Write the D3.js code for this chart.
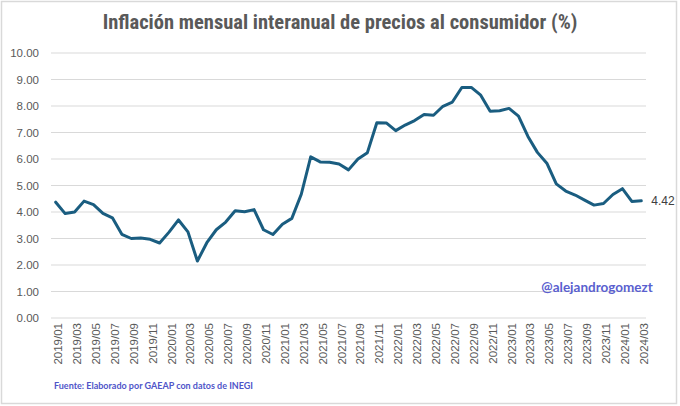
<!DOCTYPE html>
<html><head><meta charset="utf-8">
<script src="https://cdn.jsdelivr.net/npm/d3@7"></script>
<style>body{margin:0;background:#fff}svg{display:block}</style>
</head><body>
<svg id="c" width="680" height="406"></svg>
<script>
const years = [2019, 2020, 2021, 2022, 2023, 2024];
const inflation = [
  4.37, 3.94, 4.00, 4.41, 4.28, 3.95, 3.78, 3.16, 3.00, 3.02, 2.97, 2.83,
  3.24, 3.70, 3.25, 2.15, 2.84, 3.33, 3.62, 4.05, 4.01, 4.09, 3.33, 3.15,
  3.54, 3.76, 4.67, 6.08, 5.89, 5.88, 5.81, 5.59, 6.00, 6.24, 7.37, 7.36,
  7.07, 7.28, 7.45, 7.68, 7.65, 7.99, 8.15, 8.70, 8.70, 8.41, 7.80, 7.82,
  7.91, 7.62, 6.85, 6.25, 5.84, 5.06, 4.79, 4.64, 4.45, 4.26, 4.32, 4.66,
  4.88, 4.40, 4.42
];
const months = [];
years.forEach(yr => { for (let m = 1; m <= 12; m++) months.push(yr + "/" + String(m).padStart(2, "0")); });
const categories = months.slice(0, inflation.length);
const yTicks = [0, 1, 2, 3, 4, 5, 6, 7, 8, 9, 10];
const title = "Inflación mensual interanual de precios al consumidor (%)";
const source = "Fuente: Elaborado por GAEAP con datos de INEGI";
const handle = "@alejandrogomezt";

const svg = d3.select("#c");
svg.append("rect").attr("x", 1.5).attr("y", 1.5).attr("width", 675).attr("height", 402)
  .attr("fill", "#fff").attr("stroke", "#d9d9d9").attr("stroke-width", 1.5);

const pL = 51, pR = 646, pT = 53, pB = 318;
const x = d3.scalePoint().domain(categories).range([pL, pR]).padding(0.5);
const y = d3.scaleLinear().domain([0, 10]).range([pB, pT]);

// grid
svg.append("g").selectAll("line").data(yTicks).join("line")
  .attr("x1", pL).attr("x2", pR)
  .attr("y1", d => y(d)).attr("y2", d => y(d))
  .attr("stroke", "#d9d9d9").attr("stroke-width", 1);

// y labels
const yAxis = d3.axisLeft(y).tickValues(yTicks).tickFormat(d3.format(".2f")).tickSize(0).tickPadding(0);
const gy = svg.append("g").attr("transform", "translate(39,0)").call(yAxis);
gy.select(".domain").remove();
gy.selectAll("text").attr("fill", "#595959").attr("font-size", 11.5)
  .attr("font-family", "Liberation Sans, Arial, sans-serif");

// x labels
const xAxis = d3.axisBottom(x).tickValues(categories.filter((d, i) => i % 2 === 0)).tickSize(0).tickPadding(0);
const gx = svg.append("g").attr("transform", `translate(2,${pB + 5})`).call(xAxis);
gx.select(".domain").remove();
gx.selectAll("text")
  .attr("transform", "rotate(-90)")
  .attr("text-anchor", "end")
  .attr("x", 0).attr("y", 0).attr("dy", "0.35em")
  .attr("fill", "#595959").attr("font-size", 11.5)
  .attr("font-family", "Liberation Sans, Arial, sans-serif");

// line
const line = d3.line().x((d, i) => x(categories[i])).y(d => y(d));
svg.append("path").datum(inflation).attr("d", line)
  .attr("fill", "none").attr("stroke", "#1a5d80").attr("stroke-width", 3)
  .attr("stroke-linejoin", "round").attr("stroke-linecap", "round");

// last value label
const last = inflation[inflation.length - 1];
svg.append("text").attr("x", x(categories[categories.length - 1]) + 10).attr("y", y(last))
  .attr("dy", "0.35em").attr("fill", "#404040").attr("font-size", 12)
  .attr("font-family", "Liberation Sans, Arial, sans-serif").text(d3.format(".2f")(last));

// title
svg.append("text").attr("x", 340).attr("y", 29).attr("text-anchor", "middle")
  .attr("fill", "#595959").attr("font-size", 20.5).attr("font-weight", "bold")
  .attr("font-family", "Liberation Sans Narrow, Roboto Condensed, Arial Narrow, sans-serif")
  .text(title);

// handle
svg.append("text").attr("x", 597).attr("y", 292).attr("text-anchor", "middle")
  .attr("fill", "#5a5fcf").attr("font-size", 13.5).attr("font-weight", "bold")
  .attr("font-family", "Lato, Open Sans, sans-serif")
  .text(handle);

// source
svg.append("text").attr("x", 54).attr("y", 389)
  .attr("fill", "#4f55c9").attr("font-size", 9).attr("font-weight", "bold")
  .attr("font-family", "Lato, Open Sans, sans-serif")
  .text(source);
</script>
</body></html>
